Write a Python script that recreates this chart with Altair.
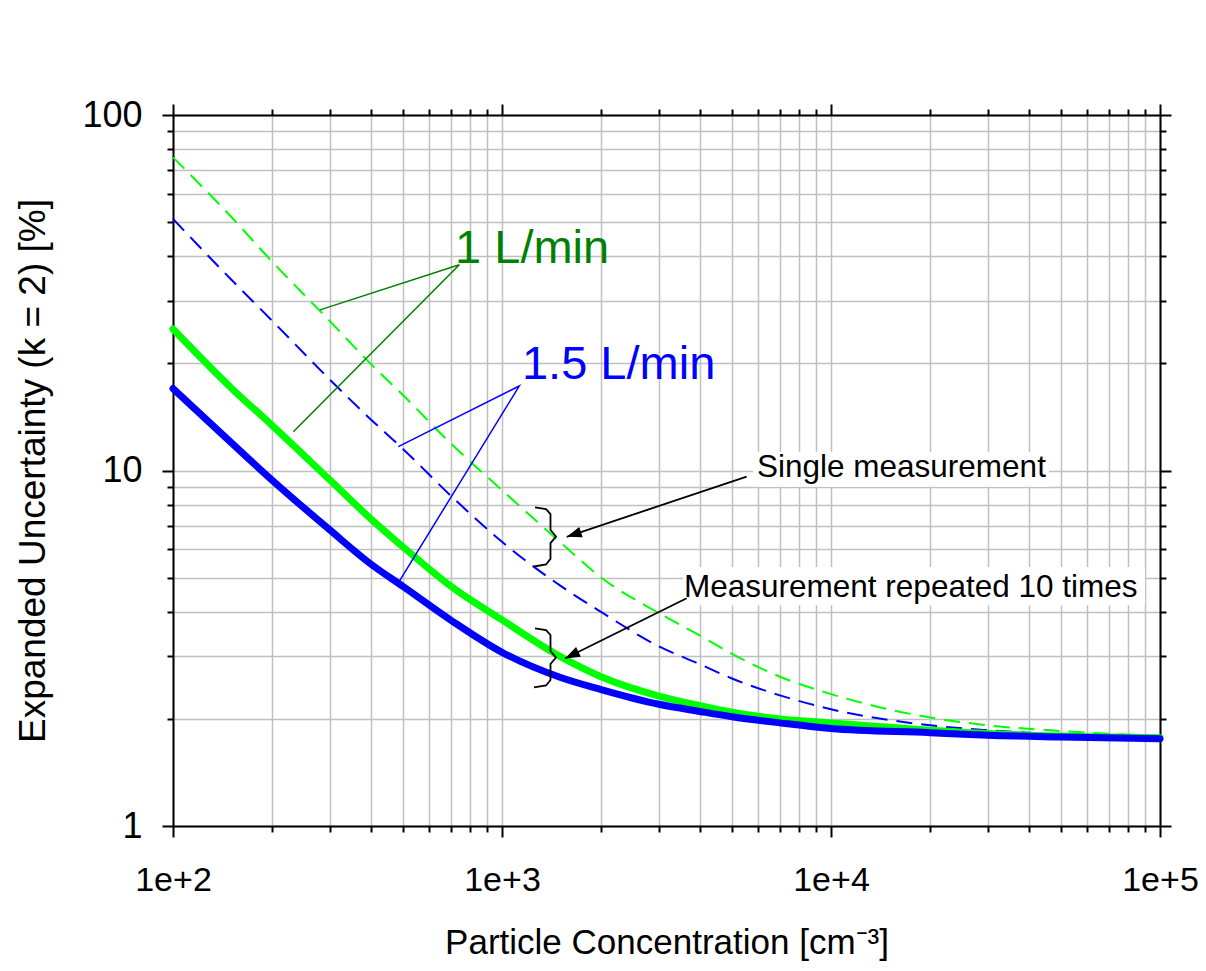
import altair as alt
import pandas as pd

# ---------------- data ----------------
conc = [100, 150, 200, 300, 400, 500, 700, 1000, 1500, 2000, 3000, 4000, 5000, 7000,
        10000, 20000, 30000, 50000, 100000]
u_1lpm_single = [76, 51.8, 38.7, 26.3, 19.9, 16.3, 11.9, 8.8, 6.3, 5.0, 3.97, 3.43, 3.05, 2.63,
                 2.35, 2.02, 1.92, 1.85, 1.79]
u_15lpm_single = [51, 34.5, 26.4, 18.0, 13.9, 11.5, 8.48, 6.3, 4.75, 4.0, 3.2, 2.85, 2.6, 2.33,
                  2.13, 1.92, 1.86, 1.81, 1.77]
u_1lpm_rep10 = [25, 17.1, 13.4, 9.4, 7.3, 6.1, 4.72, 3.8, 3.0, 2.63, 2.32, 2.18, 2.09, 2.0,
                1.95, 1.86, 1.82, 1.79, 1.77]
u_15lpm_rep10 = [17.0, 12.0, 9.4, 6.8, 5.45, 4.72, 3.79, 3.08, 2.62, 2.42, 2.2, 2.1, 2.03, 1.95,
                 1.88, 1.83, 1.80, 1.78, 1.76]

x_ticks = [100, 200, 300, 400, 500, 600, 700, 800, 900,
           1000, 2000, 3000, 4000, 5000, 6000, 7000, 8000, 9000,
           10000, 20000, 30000, 40000, 50000, 60000, 70000, 80000, 90000, 100000]
y_ticks = [1, 2, 3, 4, 5, 6, 7, 8, 9, 10, 20, 30, 40, 50, 60, 70, 80, 90, 100]

x_title = "Particle Concentration [cm\u207b\u00b3]"
y_title = "Expanded Uncertainty (k = 2) [%]"

# annotation texts (data coordinates)
label_text = ["1 L/min", "1.5 L/min"]
label_c = [720, 1150]
label_u = [38.3, 18.1]
label_color = ["#008000", "#0000ff"]

note_text = ["Single measurement", "Measurement repeated 10 times"]
note_c = [5957, 3575]
note_u = [9.61, 4.42]

box_c1 = [5800, 3550]
box_c2 = [46000, 90000]
box_u1 = [9.0, 4.18]
box_u2 = [11.3, 5.35]

# leader lines (polyline end -> apex -> end)
green_lead_c = [279.8, 741.7, 232.2]
green_lead_u = [28.3, 37.9, 12.86]
blue_lead_c = [484, 1129, 484]
blue_lead_u = [11.67, 17.29, 4.83]

# arrows: start -> tip
arrow_c = [[5542, 1573], [3642, 1554]]
arrow_u = [[9.61, 6.51], [4.37, 2.96]]
arrow_angle = [251.6, 243.8]

# braces
brace_c = [1260, 1361, 1404, 1404, 1459, 1404, 1404, 1361, 1251]
brace1_u = [7.88, 7.79, 7.54, 6.80, 6.52, 6.25, 5.64, 5.44, 5.37]
brace2_u = [3.598, 3.558, 3.446, 3.107, 2.978, 2.856, 2.575, 2.485, 2.453]

# ---------------- tables ----------------
def series_df(vals):
    return pd.DataFrame({"C": conc, "U": vals})

df_all = pd.DataFrame({"C": conc * 4,
                       "U": u_1lpm_single + u_15lpm_single + u_1lpm_rep10 + u_15lpm_rep10})

rows = []
for g, (cs, us) in enumerate(zip(arrow_c, arrow_u)):
    for i, (c, u) in enumerate(zip(cs, us)):
        rows.append({"C": c, "U": u, "grp": f"a{g}", "ord": i})
for g, us in enumerate([brace1_u, brace2_u]):
    for i, (c, u) in enumerate(zip(brace_c, us)):
        rows.append({"C": c, "U": u, "grp": f"b{g}", "ord": i})
df_black = pd.DataFrame(rows)

df_green_lead = pd.DataFrame({"C": green_lead_c, "U": green_lead_u, "ord": [0, 1, 2]})
df_blue_lead = pd.DataFrame({"C": blue_lead_c, "U": blue_lead_u, "ord": [0, 1, 2]})

df_heads = pd.DataFrame({"C": [a[1] for a in arrow_c], "U": [a[1] for a in arrow_u],
                         "ang": arrow_angle})
df_labels = pd.DataFrame({"C": label_c, "U": label_u, "text": label_text, "col": label_color})
df_notes = pd.DataFrame({"C": note_c, "U": note_u, "text": note_text})
df_boxes = pd.DataFrame({"C1": box_c1, "C2": box_c2, "U1": box_u1, "U2": box_u2})

# ---------------- scales & axes ----------------
xs = alt.Scale(type="log", domain=[100, 100000], nice=False)
ys = alt.Scale(type="log", domain=[1, 100], nice=False)

major_x = "indexof([100, 1000, 10000, 100000], datum.value) >= 0"
major_y = "indexof([1, 10, 100], datum.value) >= 0"
FONT = "Liberation Sans"

tick_x = {"condition": {"test": major_x, "value": 11}, "value": 6}
tick_y = {"condition": {"test": major_y, "value": 11}, "value": 6}

bottom_axis = alt.Axis(
    orient="bottom", values=x_ticks,
    labelExpr=f"{major_x} ? '1e+' + format(log(datum.value) / LN10, '.0f') : ''",
    labelFont=FONT, labelFontSize=34, labelColor="black", labelPadding=43,
    labelBaseline="middle", labelOverlap=False, labelFlush=False,
    tickColor="black", tickWidth=2, tickSize=tick_x,
    domainColor="black", domainWidth=2,
    grid=True, gridColor="#c0c0c0", gridWidth=1.5,
    title=x_title, titleFont=FONT, titleFontSize=35, titleFontWeight="normal",
    titleColor="black", titleY=116, titleBaseline="middle")

left_axis = alt.Axis(
    orient="left", values=y_ticks,
    labelExpr=f"{major_y} ? format(datum.value, 'd') : ''",
    labelFont=FONT, labelFontSize=36, labelColor="black", labelPadding=20,
    labelBaseline="middle", labelOverlap=False, labelFlush=False,
    tickColor="black", tickWidth=2, tickSize=tick_y,
    domainColor="black", domainWidth=2,
    grid=True, gridColor="#c0c0c0", gridWidth=1.5,
    title=y_title, titleFont=FONT, titleFontSize=37, titleFontWeight="normal",
    titleColor="black", titleX=-140, titleY=355.5, titleBaseline="middle",
    titleAlign="center", titleAngle=270)

top_axis = alt.Axis(orient="top", values=x_ticks, labels=False, grid=False,
                    tickColor="black", tickWidth=2, tickSize=tick_x,
                    domainColor="black", domainWidth=2, title=None)
right_axis = alt.Axis(orient="right", values=y_ticks, labels=False, grid=False,
                      tickColor="black", tickWidth=2, tickSize=tick_y,
                      domainColor="black", domainWidth=2, title=None)

X = lambda: alt.X("C:Q", scale=xs, axis=None)
Y = lambda: alt.Y("U:Q", scale=ys, axis=None)

frame1 = alt.Chart(df_all).mark_point(opacity=0).encode(
    x=alt.X("C:Q", scale=xs, axis=bottom_axis),
    y=alt.Y("U:Q", scale=ys, axis=left_axis))
frame2 = alt.Chart(df_all).mark_point(opacity=0).encode(
    x=alt.X("C:Q", scale=xs, axis=top_axis),
    y=alt.Y("U:Q", scale=ys, axis=right_axis))

def curve(vals, color, width, dash=None):
    kw = dict(color=color, strokeWidth=width, interpolate="monotone", strokeCap="round")
    if dash:
        kw["strokeDash"] = dash
        kw["strokeCap"] = "butt"
    return alt.Chart(series_df(vals)).mark_line(**kw).encode(x=X(), y=Y())

l_gd = curve(u_1lpm_single, "#00ff00", 2, [16, 9])
l_bd = curve(u_15lpm_single, "#0000ff", 2, [16, 9])
l_gt = curve(u_1lpm_rep10, "#00ff00", 7)
l_bt = curve(u_15lpm_rep10, "#0000ff", 7)

boxes = alt.Chart(df_boxes).mark_rect(color="white").encode(
    x=alt.X("C1:Q", scale=xs, axis=None), x2="C2:Q",
    y=alt.Y("U1:Q", scale=ys, axis=None), y2="U2:Q")

green_lead = alt.Chart(df_green_lead).mark_line(color="#008000", strokeWidth=1.5).encode(
    x=X(), y=Y(), order="ord:Q")
blue_lead = alt.Chart(df_blue_lead).mark_line(color="#0000ff", strokeWidth=1.5).encode(
    x=X(), y=Y(), order="ord:Q")
black_lines = alt.Chart(df_black).mark_line(color="black", strokeWidth=1.8).encode(
    x=X(), y=Y(), detail="grp:N", order="ord:Q")

heads = alt.Chart(df_heads).mark_point(
    shape="M0,0 L-0.36,1 L0.36,1 Z", filled=True, color="black", opacity=1, size=900,
    strokeWidth=0).encode(x=X(), y=Y(), angle=alt.Angle("ang:Q", scale=None))

labels = alt.Chart(df_labels).mark_text(
    align="left", baseline="alphabetic", font=FONT, fontSize=47).encode(
    x=X(), y=Y(), text="text:N", color=alt.Color("col:N", scale=None))

notes = alt.Chart(df_notes).mark_text(
    align="left", baseline="alphabetic", font=FONT, fontSize=31.5, color="black").encode(
    x=X(), y=Y(), text="text:N")

chart = alt.layer(
    frame1, frame2, l_gd, l_bd, l_gt, l_bt, boxes, green_lead, blue_lead,
    black_lines, heads, labels, notes
).resolve_axis(x="independent", y="independent").properties(
    width=987, height=711,
    padding={"left": 165, "top": 107, "right": 38, "bottom": 137},
    autosize=alt.AutoSizeParams(type="none"),
    background="white",
).configure_view(stroke=None)

chart.save("out.html", embed_options={"renderer": "svg", "actions": False})
